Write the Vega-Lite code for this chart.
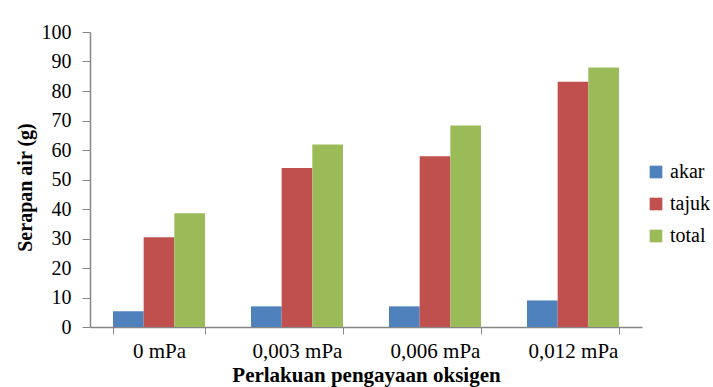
{
  "$schema": "https://vega.github.io/schema/vega-lite/v6.json",
  "autosize": {"type": "none"},
  "padding": {"left": 90, "top": 32, "right": 71, "bottom": 60},
  "width": 552,
  "height": 295,
  "background": "white",
  "data": {
    "values": [
      {"perlakuan": "0 mPa", "seri": "akar", "nilai": 5.3},
      {"perlakuan": "0 mPa", "seri": "tajuk", "nilai": 30.4},
      {"perlakuan": "0 mPa", "seri": "total", "nilai": 38.6},
      {"perlakuan": "0,003 mPa", "seri": "akar", "nilai": 7.0},
      {"perlakuan": "0,003 mPa", "seri": "tajuk", "nilai": 53.9},
      {"perlakuan": "0,003 mPa", "seri": "total", "nilai": 61.9},
      {"perlakuan": "0,006 mPa", "seri": "akar", "nilai": 7.0},
      {"perlakuan": "0,006 mPa", "seri": "tajuk", "nilai": 57.9},
      {"perlakuan": "0,006 mPa", "seri": "total", "nilai": 68.3},
      {"perlakuan": "0,012 mPa", "seri": "akar", "nilai": 9.0},
      {"perlakuan": "0,012 mPa", "seri": "tajuk", "nilai": 83.1},
      {"perlakuan": "0,012 mPa", "seri": "total", "nilai": 88.0}
    ]
  },
  "mark": {"type": "bar"},
  "encoding": {
    "x": {
      "field": "perlakuan",
      "type": "nominal",
      "sort": ["0 mPa", "0,003 mPa", "0,006 mPa", "0,012 mPa"],
      "scale": {"paddingInner": 0.3333, "paddingOuter": 0.1667},
      "axis": {
        "title": "Perlakuan pengayaan oksigen",
        "labelAngle": 0,
        "labelFont": "Liberation Serif",
        "labelFontSize": 21,
        "labelColor": "#000000",
        "labelPadding": 6,
        "titleFont": "Liberation Serif",
        "titleFontSize": 21,
        "titleFontWeight": "bold",
        "titleColor": "#000000",
        "titlePadding": 3,
        "tickBand": "extent",
        "tickSize": 7,
        "tickColor": "#868686",
        "domainColor": "#868686",
        "domainWidth": 1.5
      }
    },
    "xOffset": {
      "field": "seri",
      "type": "nominal",
      "scale": {"domain": ["akar", "tajuk", "total"], "paddingInner": 0, "paddingOuter": 0}
    },
    "y": {
      "field": "nilai",
      "type": "quantitative",
      "scale": {"domain": [0, 100], "nice": false},
      "axis": {
        "title": "Serapan air (g)",
        "values": [0, 10, 20, 30, 40, 50, 60, 70, 80, 90, 100],
        "grid": false,
        "labelFont": "Liberation Serif",
        "labelFontSize": 20,
        "labelColor": "#000000",
        "labelPadding": 11,
        "tickSize": 8,
        "tickColor": "#868686",
        "domainColor": "#868686",
        "domainWidth": 1.5,
        "titleFont": "Liberation Serif",
        "titleFontSize": 20,
        "titleFontWeight": "bold",
        "titleColor": "#000000",
        "titlePadding": 6,
        "titleY": 155
      }
    },
    "color": {
      "field": "seri",
      "type": "nominal",
      "scale": {"domain": ["akar", "tajuk", "total"], "range": ["#4F81BD", "#C0504D", "#9BBB59"]},
      "legend": {
        "title": null,
        "orient": "none",
        "legendX": 556,
        "legendY": 130,
        "symbolType": "square",
        "symbolSize": 160,
        "symbolStrokeWidth": 0,
        "symbolOpacity": 1,
        "labelFont": "Liberation Serif",
        "labelFontSize": 20,
        "labelColor": "#000000",
        "labelOffset": 4,
        "rowPadding": 12
      }
    }
  },
  "config": {
    "view": {"stroke": null}
  }
}
